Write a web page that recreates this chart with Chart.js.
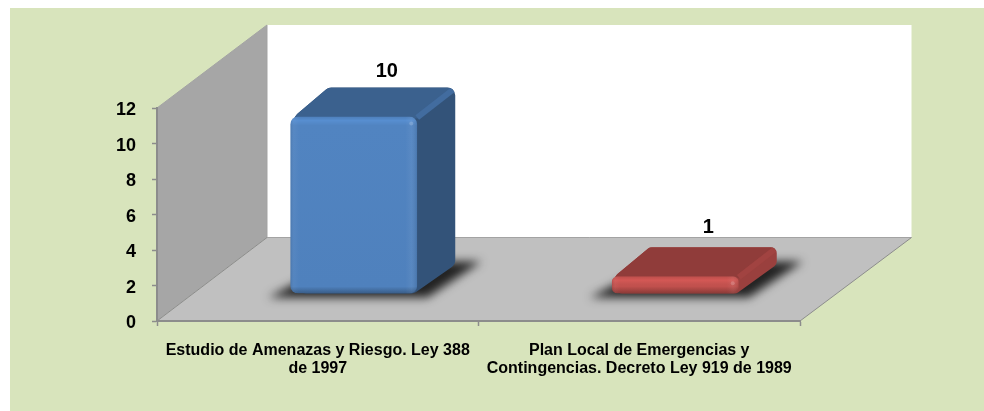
<!DOCTYPE html>
<html>
<head>
<meta charset="utf-8">
<style>
  html, body { margin: 0; padding: 0; background: #fff; width: 984px; height: 411px; overflow: hidden; }
  #panel { position: absolute; left: 10px; top: 8px; width: 974px; height: 403px; background: #d8e4bc; }
  #chart { position: absolute; left: 0; top: 0; }
</style>
<script src="https://cdn.jsdelivr.net/npm/chart.js@4"></script>
</head>
<body>
<div id="panel"></div>
<canvas id="chart" width="984" height="411"></canvas>
<script>
const categories = [
  ['Estudio de Amenazas y Riesgo. Ley 388', 'de 1997'],
  ['Plan Local de Emergencias y', 'Contingencias. Decreto Ley 919 de 1989']
];
const values = [10, 1];
const barColors = ['#4f81bd', '#c0504d'];
const yMax = 12;
const yStep = 2;

// how the flat axes are pushed back to look 3D
const WALL_DX = 110, WALL_DY = -83.5;
const WALL_TOP = 25;
const FRONT_DX = 36, FRONT_DY = -27;   // front face of a bar vs. the axis plane
const BAR_DX = 38, BAR_DY = -29;       // depth of a bar
const LABEL_LIFT = [45, 49];

function shade(hex, f) {
  const n = parseInt(hex.slice(1), 16);
  const c = [n >> 16, (n >> 8) & 255, n & 255].map(v => Math.min(255, Math.round(v * f)));
  return `rgb(${c[0]},${c[1]},${c[2]})`;
}

function poly(ctx, pts) {
  ctx.beginPath();
  pts.forEach((p, i) => i ? ctx.lineTo(p[0], p[1]) : ctx.moveTo(p[0], p[1]));
  ctx.closePath();
}

function roundPoly(ctx, pts, r) {
  const n = pts.length;
  ctx.beginPath();
  ctx.moveTo((pts[0][0] + pts[n - 1][0]) / 2, (pts[0][1] + pts[n - 1][1]) / 2);
  for (let i = 0; i < n; i++) {
    const a = pts[i], b = pts[(i + 1) % n];
    ctx.arcTo(a[0], a[1], b[0], b[1], r);
  }
  ctx.closePath();
}

function drawBox(ctx, bar, color) {
  const { x, y, base, width } = bar.getProps(['x', 'y', 'base', 'width']);
  const l = x - width / 2 + FRONT_DX, r = x + width / 2 + FRONT_DX;
  const t = y + FRONT_DY, b = base + FRONT_DY;
  const h = b - t;
  const rad = Math.min(8, h / 3);

  // floor shadow
  ctx.save();
  ctx.filter = 'blur(5px)';
  ctx.fillStyle = 'rgba(25,25,25,0.95)';
  poly(ctx, [[l - 22, b + 4], [r + 10, b + 4], [r + BAR_DX + 26, b + BAR_DY - 3], [l + BAR_DX + 10, b + BAR_DY - 3]]);
  ctx.fill();
  ctx.restore();

  // outline of top and side, clipped so they share the rounding
  ctx.save();
  roundPoly(ctx, [[l + rad * 0.5, t], [l + BAR_DX, t + BAR_DY], [r + BAR_DX, t + BAR_DY], [r + BAR_DX, b + BAR_DY], [r - rad * 0.4, b], [l + rad, b]], rad);
  ctx.clip();
  ctx.fillStyle = shade(color, color === barColors[0] ? 0.64 : 0.8);
  ctx.fillRect(l - 5, t + BAR_DY - 5, r - l + BAR_DX + 10, h - BAR_DY + 10);

  ctx.fillStyle = shade(color, 0.75);
  poly(ctx, [[l - 2, t + 2], [l + BAR_DX - 2, t + BAR_DY], [r + BAR_DX + 1, t + BAR_DY], [r + 1, t + 2]]);
  ctx.fill();

  // ridge between top and side
  ctx.strokeStyle = shade(color, 0.84);
  ctx.lineWidth = Math.min(6, h / 3);
  ctx.beginPath();
  ctx.moveTo(r, t + 1);
  ctx.lineTo(r + BAR_DX - 2, t + BAR_DY + 2);
  ctx.stroke();
  ctx.restore();

  // front, with bevelled edges
  ctx.save();
  ctx.beginPath();
  ctx.roundRect(l, t, r - l, h, rad);
  ctx.clip();
  const g = ctx.createLinearGradient(0, t, 0, b);
  const s = 1 / h;
  g.addColorStop(0, shade(color, 0.98));
  g.addColorStop(Math.min(0.3, 4 * s), shade(color, 1.1));
  g.addColorStop(Math.min(0.45, 9 * s), shade(color, 1.02));
  g.addColorStop(Math.max(0.55, 1 - 7 * s), color);
  g.addColorStop(1, shade(color, 0.72));
  ctx.fillStyle = g;
  ctx.fillRect(l, t, r - l, h);
  const e = ctx.createLinearGradient(l, 0, r, 0);
  const w = 1 / (r - l);
  e.addColorStop(0, 'rgba(0,0,0,0.1)');
  e.addColorStop(4 * w, 'rgba(255,255,255,0.03)');
  e.addColorStop(9 * w, 'rgba(255,255,255,0)');
  e.addColorStop(1 - 12 * w, 'rgba(255,255,255,0)');
  e.addColorStop(1 - 6 * w, 'rgba(255,255,255,0.05)');
  e.addColorStop(1, 'rgba(0,0,0,0.1)');
  ctx.fillStyle = e;
  ctx.fillRect(l, t, r - l, h);
  ctx.fillStyle = 'rgba(255,255,255,0.18)';
  ctx.beginPath();
  ctx.arc(r - 6, t + 7, 2, 0, Math.PI * 2);
  ctx.fill();
  ctx.restore();
}

const wallsPlugin = {
  id: 'walls',
  beforeDraw(chart) {
    const { ctx, chartArea: a } = chart;
    const backL = a.left + WALL_DX, backR = a.right + WALL_DX + 1.5, backB = a.bottom + WALL_DY;
    ctx.save();
    ctx.fillStyle = '#fff';
    ctx.fillRect(backL, WALL_TOP, backR - backL, backB - WALL_TOP);

    ctx.fillStyle = '#a6a6a6';
    poly(ctx, [[a.left, a.top], [backL, WALL_TOP], [backL, backB], [a.left, a.bottom]]);
    ctx.fill();

    ctx.fillStyle = '#c0c0c0';
    poly(ctx, [[a.left, a.bottom], [backL, backB], [backR, backB], [a.right, a.bottom]]);
    ctx.fill();

    // outlines of the wall and floor
    ctx.strokeStyle = '#a3a3a3';
    ctx.lineWidth = 1;
    ctx.beginPath();
    ctx.moveTo(a.left, a.top);
    ctx.lineTo(backL, WALL_TOP);
    ctx.lineTo(backL, backB);
    ctx.lineTo(backR, backB);
    ctx.stroke();
    ctx.strokeStyle = '#8c8c8c';
    ctx.beginPath();
    ctx.moveTo(a.left, a.bottom);
    ctx.lineTo(backL, backB);
    ctx.moveTo(backR, backB);
    ctx.lineTo(a.right, a.bottom);
    ctx.stroke();
    ctx.restore();
  },
  beforeDatasetDraw(chart, args) {
    const ds = chart.data.datasets[args.index];
    args.meta.data.forEach((bar, i) => drawBox(chart.ctx, bar, ds.backgroundColor[i]));
    return false;
  },
  afterDatasetsDraw(chart) {
    const { ctx } = chart;
    const meta = chart.getDatasetMeta(0);
    ctx.save();
    ctx.fillStyle = '#000';
    ctx.font = 'bold 20px "Liberation Sans", Arial, sans-serif';
    ctx.textAlign = 'center';
    ctx.textBaseline = 'middle';
    meta.data.forEach((bar, i) => {
      ctx.fillText(values[i], bar.x + FRONT_DX + 33, bar.y + FRONT_DY - LABEL_LIFT[i]);
    });
    ctx.restore();
  }
};

new Chart(document.getElementById('chart'), {
  type: 'bar',
  data: {
    labels: categories,
    datasets: [{
      data: values,
      backgroundColor: barColors,
      categoryPercentage: 1,
      barPercentage: 0.395
    }]
  },
  plugins: [wallsPlugin],
  options: {
    responsive: false,
    animation: false,
    layout: { padding: { top: 108, right: 184, left: 0, bottom: 0 } },
    plugins: { legend: { display: false }, tooltip: { enabled: false } },
    scales: {
      x: {
        afterFit(s) { s.height = 90; },
        border: { color: '#8c8c8c', width: 2 },
        grid: { drawOnChartArea: false, tickLength: 5, tickColor: '#8c8c8c', tickWidth: 1.5 },
        ticks: {
          color: '#000',
          maxRotation: 0,
          autoSkip: false,
          padding: 16,
          font: { family: '"Liberation Sans", Arial, sans-serif', size: 16, weight: 'bold', lineHeight: 1.125 }
        }
      },
      y: {
        min: 0,
        max: yMax,
        afterFit(s) { s.width = 157; },
        border: { color: '#8c8c8c', width: 2 },
        grid: { drawOnChartArea: false, tickLength: 5, tickColor: '#8c8c8c', tickWidth: 1.5 },
        ticks: {
          stepSize: yStep,
          color: '#000',
          padding: 16,
          // empty first line nudges the number down a bit, like the original
          callback: v => ['', v],
          font: { family: '"Liberation Sans", Arial, sans-serif', size: 18, weight: 'bold', lineHeight: 0.28 }
        }
      }
    }
  }
});
</script>
</body>
</html>
